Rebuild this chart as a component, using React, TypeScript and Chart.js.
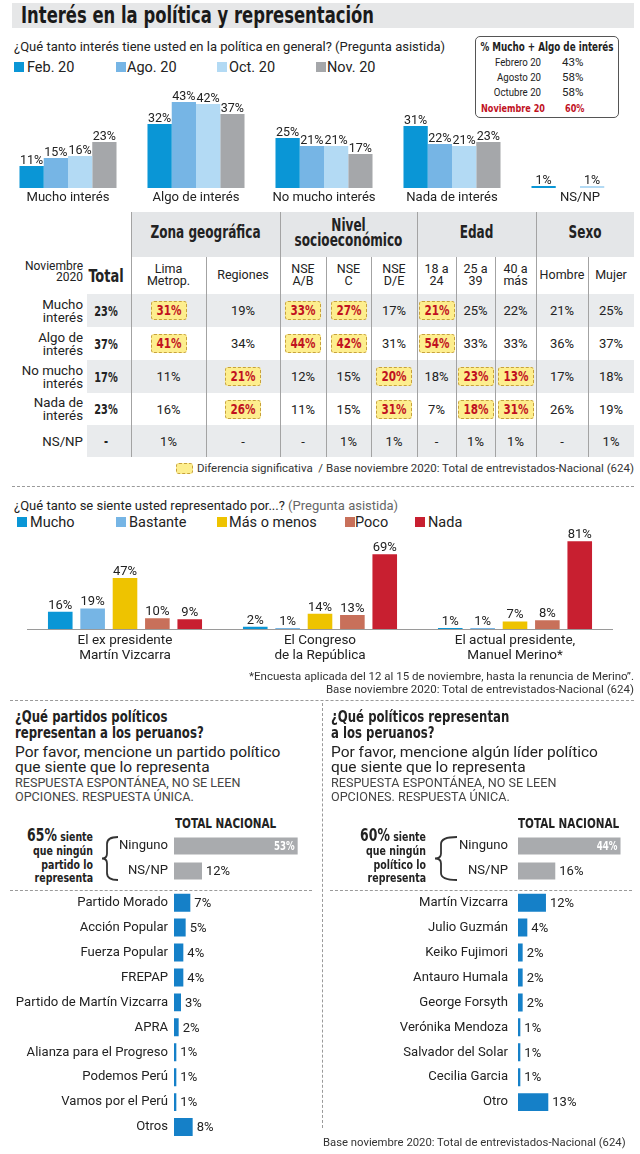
import React, { useEffect, useRef } from "react";
import { Chart, registerables } from "chart.js";

Chart.register(...registerables);

const REG = "Roboto, 'Liberation Sans', Arial, sans-serif";
const COND = "'DejaVu Sans Condensed', 'DejaVu Sans', sans-serif";
const CSX = 0.8; // horizontal squeeze for the condensed bold face
const INK = "#222";

// ---------- Data: interest in politics ----------
const interestCategories = ["Mucho interés", "Algo de interés", "No mucho interés", "Nada de interés", "NS/NP"];
const interestSeries = ["Feb. 20", "Ago. 20", "Oct. 20", "Nov. 20"];
const interestFeb = [11, 32, 25, 31, 1];
const interestAgo = [15, 43, 21, 22, null];
const interestOct = [16, 42, 21, 21, 1];
const interestNov = [23, 37, 17, 23, null];
const interestColors = ["#0a96d6", "#76b5e5", "#b3daf4", "#a5a7aa"];

const insetLabels = ["Febrero 20", "Agosto 20", "Octubre 20", "Noviembre 20"];
const insetValues = [43, 58, 58, 60];

// ---------- Data: cross table (Nov 2020) ----------
const tableGroups = ["Zona geográfica", "Nivel\nsocioeconómico", "Edad", "Sexo"];
const tableColumns = ["Lima\nMetrop.", "Regiones", "NSE\nA/B", "NSE\nC", "NSE\nD/E", "18 a\n24", "25 a\n39", "40 a\nmás", "Hombre", "Mujer"];
const tableRows = ["Mucho\ninterés", "Algo de\ninterés", "No mucho\ninterés", "Nada de\ninterés", "NS/NP"];
const tableTotals = ["23%", "37%", "17%", "23%", "-"];
const tableMucho = ["31%", "19%", "33%", "27%", "17%", "21%", "25%", "22%", "21%", "25%"];
const tableAlgo = ["41%", "34%", "44%", "42%", "31%", "54%", "33%", "33%", "36%", "37%"];
const tableNoMucho = ["11%", "21%", "12%", "15%", "20%", "18%", "23%", "13%", "17%", "18%"];
const tableNada = ["16%", "26%", "11%", "15%", "31%", "7%", "18%", "31%", "26%", "19%"];
const tableNsnp = ["1%", "-", "-", "1%", "1%", "-", "1%", "1%", "-", "1%"];
const sigMucho = [1, 0, 1, 1, 0, 1, 0, 0, 0, 0];
const sigAlgo = [1, 0, 1, 1, 0, 1, 0, 0, 0, 0];
const sigNoMucho = [0, 1, 0, 0, 1, 0, 1, 1, 0, 0];
const sigNada = [0, 1, 0, 0, 1, 0, 1, 1, 0, 0];
const sigNsnp = [0, 0, 0, 0, 0, 0, 0, 0, 0, 0];

// ---------- Data: representation ----------
const reprCategories = [["El ex presidente", "Martín Vizcarra"], ["El Congreso", "de la República"], ["El actual presidente,", "Manuel Merino*"]];
const reprSeries = ["Mucho", "Bastante", "Más o menos", "Poco", "Nada"];
const reprMucho = [16, 2, 1];
const reprBastante = [19, 1, 1];
const reprMasMenos = [47, 14, 7];
const reprPoco = [10, 13, 8];
const reprNada = [9, 69, 81];
const reprColors = ["#0a96d6", "#76b5e5", "#eec300", "#c8705a", "#c81f30"];

// ---------- Data: parties ----------
const partyNoneLabels = ["Ninguno", "NS/NP"];
const partyNoneValues = [53, 12];
const partyLabels = ["Partido Morado", "Acción Popular", "Fuerza Popular", "FREPAP", "Partido de Martín Vizcarra", "APRA", "Alianza para el Progreso", "Podemos Perú", "Vamos por el Perú", "Otros"];
const partyValues = [7, 5, 4, 4, 3, 2, 1, 1, 1, 8];

// ---------- Data: politicians ----------
const leaderNoneLabels = ["Ninguno", "NS/NP"];
const leaderNoneValues = [44, 16];
const leaderLabels = ["Martín Vizcarra", "Julio Guzmán", "Keiko Fujimori", "Antauro Humala", "George Forsyth", "Verónika Mendoza", "Salvador del Solar", "Cecilia Garcia", "Otro"];
const leaderValues = [12, 4, 2, 2, 2, 1, 1, 1, 13];

const GRAY_BAR = "#a9abae";
const BLUE_BAR = "#1580c8";
const RED = "#c1121f";

const valueLabelPlugin = {
  id: "valueLabels",
  afterDatasetsDraw(chart: any, _args: any, opts: any) {
    const ctx = chart.ctx;
    const horizontal = chart.options.indexAxis === "y";
    ctx.save();
    chart.data.datasets.forEach((ds: any, di: number) => {
      const meta = chart.getDatasetMeta(di);
      meta.data.forEach((el: any, i: number) => {
        const v = ds.data[i];
        if (v === null || v === undefined) return;
        const text = v + "%";
        if (horizontal) {
          const inside = opts.insideIndex === i;
          ctx.textBaseline = "middle";
          if (inside) {
            ctx.save();
            ctx.font = opts.insideFont;
            ctx.fillStyle = opts.insideColor;
            ctx.textAlign = "right";
            ctx.translate(el.x - 3, el.y + 1);
            ctx.scale(opts.insideScaleX, 1);
            ctx.fillText(text, 0, 0);
            ctx.restore();
          } else {
            ctx.font = opts.font;
            ctx.fillStyle = opts.color;
            ctx.textAlign = "left";
            ctx.fillText(text, el.x + opts.offset, el.y + 1);
          }
        } else {
          ctx.font = opts.font;
          ctx.fillStyle = opts.color;
          ctx.textAlign = "center";
          ctx.textBaseline = "alphabetic";
          ctx.fillText(text, el.x, el.y - opts.offset);
        }
      });
    });
    ctx.restore();
  },
};

function ChartCanvas({ left, top, width, height, make }: { left: number; top: number; width: number; height: number; make: () => any }) {
  const ref = useRef<HTMLCanvasElement>(null);
  useEffect(() => {
    const chart = new Chart(ref.current as HTMLCanvasElement, make());
    return () => chart.destroy();
  }, []);
  return (
    <canvas
      ref={ref}
      width={width}
      height={height}
      style={{ position: "absolute", left, top, width, height, display: "block" }}
    />
  );
}

const baseOpts = {
  responsive: false,
  animation: false,
  events: [],
};

function interestConfig() {
  const data = [interestFeb, interestAgo, interestOct, interestNov];
  return {
    type: "bar",
    data: {
      labels: interestCategories,
      datasets: interestSeries.map((s, i) => ({
        label: s,
        data: data[i],
        backgroundColor: interestColors[i],
        borderWidth: 0,
        categoryPercentage: 0.758,
        barPercentage: 1,
      })),
    },
    options: {
      ...baseOpts,
      layout: { padding: { top: 8, bottom: 2, left: 0, right: 0 } },
      plugins: {
        legend: { display: false },
        tooltip: { enabled: false },
        valueLabels: { font: `12.5px ${REG}`, color: INK, offset: 2 },
      },
      scales: {
        x: {
          grid: { display: false, drawTicks: false },
          border: { display: false },
          ticks: { font: { family: REG, size: 13.1 }, color: INK, padding: 2, maxRotation: 0, autoSkip: false },
          afterFit: (s: any) => { s.height = 20; },
        },
        y: { display: false, min: 0, max: 50 },
      },
    },
    plugins: [valueLabelPlugin],
  };
}

function reprConfig() {
  const data = [reprMucho, reprBastante, reprMasMenos, reprPoco, reprNada];
  return {
    type: "bar",
    data: {
      labels: reprCategories,
      datasets: reprSeries.map((s, i) => ({
        label: s,
        data: data[i],
        backgroundColor: reprColors[i],
        borderWidth: 0,
        categoryPercentage: 0.83,
        barPercentage: 0.76,
      })),
    },
    options: {
      ...baseOpts,
      layout: { padding: { top: 16.8, bottom: 5, left: 27.5, right: 27.5 } },
      plugins: {
        legend: { display: false },
        tooltip: { enabled: false },
        valueLabels: { font: `13px ${REG}`, color: INK, offset: 3 },
      },
      scales: {
        x: {
          grid: { display: false, drawTicks: false },
          border: { display: true, color: "#9a9a9a", width: 1 },
          ticks: { font: { family: REG, size: 13.5, lineHeight: 1.12 }, color: INK, padding: 4, maxRotation: 0, autoSkip: false },
          afterFit: (s: any) => { s.height = 36; },
        },
        y: { display: false, min: 0, max: 85 },
      },
    },
    plugins: [valueLabelPlugin],
  };
}

function hbarConfig(labels: string[], values: number[], color: string, axisWidth: number, tickPad: number, max: number, padding: any, barPct: number, insideIndex: number) {
  return {
    type: "bar",
    data: {
      labels,
      datasets: [{ data: values, backgroundColor: color, borderWidth: 0, categoryPercentage: 1, barPercentage: barPct }],
    },
    options: {
      ...baseOpts,
      indexAxis: "y",
      layout: { padding },
      plugins: {
        legend: { display: false },
        tooltip: { enabled: false },
        valueLabels: {
          font: `13px ${REG}`,
          color: INK,
          offset: 4,
          insideIndex,
          insideFont: `bold 12px ${COND}`,
          insideScaleX: CSX,
          insideColor: "#ffffff",
        },
      },
      scales: {
        x: { display: false, min: 0, max },
        y: {
          grid: { display: false, drawTicks: false },
          border: { display: false },
          ticks: { font: { family: REG, size: 13.1 }, color: INK, padding: tickPad, autoSkip: false },
          afterFit: (s: any) => {
            s.width = axisWidth;
            s.paddingTop = 0;
            s.paddingBottom = 0;
          },
        },
      },
    },
    plugins: [valueLabelPlugin],
  };
}

type TP = { x: number; y: number; children: any; size?: number; font?: string; weight?: any; color?: string; align?: "left" | "right" | "center"; lh?: number; w?: number; sx?: number; lines?: number; style?: any };
// y = vertical centre of the whole text block
function T({ x, y, children, size = 13, font = REG, weight = 400, color = INK, align = "left", lh, w = 400, sx, lines, style }: TP) {
  const lineH = lh ?? Math.round(size * 1.15);
  const n = lines ?? (typeof children === "string" ? children.split("\n").length : 1);
  const pos: any = { position: "absolute", top: y - (n * lineH) / 2, whiteSpace: "pre", fontFamily: font, fontSize: size, fontWeight: weight, color, lineHeight: lineH + "px" };
  if (align === "left") pos.left = x;
  else if (align === "right") { pos.left = x - w; pos.width = w; pos.textAlign = "right"; }
  else { pos.left = x - w / 2; pos.width = w; pos.textAlign = "center"; }
  if (sx) {
    pos.transform = `scaleX(${sx})`;
    pos.transformOrigin = align === "left" ? "left center" : align === "right" ? "right center" : "center center";
  }
  return <div style={{ ...pos, ...style }}>{children}</div>;
}

function B(props: TP) {
  return <T font={COND} weight={700} sx={CSX} {...props} />;
}

function Legend({ y, items, colors, squares, texts, size }: { y: number; items: string[]; colors: string[]; squares: number[]; texts: number[]; size: number }) {
  return (
    <>
      {items.map((it, i) => (
        <React.Fragment key={it}>
          <div style={{ position: "absolute", left: squares[i], top: y - 5, width: 10, height: 10, background: colors[i] }} />
          <T x={texts[i]} y={y} size={size}>{it}</T>
        </React.Fragment>
      ))}
    </>
  );
}

function Dash({ x, y, w, h }: { x: number; y: number; w?: number; h?: number }) {
  const horiz = w !== undefined;
  return (
    <div
      style={{
        position: "absolute",
        left: x,
        top: y,
        width: horiz ? w : 0,
        height: horiz ? 0 : h,
        borderTop: horiz ? "1px dashed #9a9a9a" : undefined,
        borderLeft: horiz ? undefined : "1px dashed #9a9a9a",
      }}
    />
  );
}

function Brace({ point, stem, hook, top, bottom }: { point: number; stem: number; hook: number; top: number; bottom: number }) {
  const mid = (top + bottom) / 2;
  const d = `M ${hook} ${top} Q ${stem} ${top} ${stem} ${top + 7} L ${stem} ${mid - 5} Q ${stem} ${mid} ${point} ${mid} Q ${stem} ${mid} ${stem} ${mid + 5} L ${stem} ${bottom - 7} Q ${stem} ${bottom} ${hook} ${bottom}`;
  return (
    <svg style={{ position: "absolute", left: 0, top: 0 }} width={640} height={1154}>
      <path d={d} stroke="#333" strokeWidth={1.8} fill="none" />
    </svg>
  );
}

const colEdges = [131, 206, 280, 326, 371, 417, 456, 495, 536, 588, 634];
const groupEdges = [131, 280, 417, 536, 634];
const rowEdges = [294, 327, 360, 393, 425, 457];

function CrossTable() {
  const rowsData = [tableMucho, tableAlgo, tableNoMucho, tableNada, tableNsnp];
  const rowsSig = [sigMucho, sigAlgo, sigNoMucho, sigNada, sigNsnp];
  const els: any[] = [];
  els.push(<div key="hb" style={{ position: "absolute", left: 131, top: 212, width: 503, height: 45, background: "#e4e6e8" }} />);
  for (let r = 0; r < 5; r += 2) {
    els.push(<div key={"band" + r} style={{ position: "absolute", left: 87, top: rowEdges[r], width: 547, height: rowEdges[r + 1] - rowEdges[r], background: "#e9ebed" }} />);
  }
  groupEdges.slice(0, 4).forEach((x, i) =>
    els.push(<div key={"gl" + i} style={{ position: "absolute", left: x, top: 212, width: 1, height: 245, background: "#a3a3a3" }} />)
  );
  colEdges.slice(0, 10).forEach((x, i) => {
    if (!groupEdges.includes(x)) els.push(<div key={"cl" + i} style={{ position: "absolute", left: x, top: 257, width: 1, height: 200, background: "#a3a3a3" }} />);
  });
  tableGroups.forEach((g, i) => {
    const x0 = groupEdges[i], x1 = groupEdges[i + 1];
    els.push(<B key={"g" + i} x={(x0 + x1) / 2} y={233} size={16.8} lh={15.5} align="center" w={x1 - x0 + 40}>{g}</B>);
  });
  tableColumns.forEach((c, i) => {
    const x0 = colEdges[i], x1 = colEdges[i + 1];
    els.push(<T key={"c" + i} x={(x0 + x1) / 2} y={275} size={12.5} lh={12.5} align="center" w={x1 - x0}>{c}</T>);
  });
  els.push(<T key="nov" x={83} y={272} size={12} align="right" w={80} lh={11.5}>{"Noviembre\n2020"}</T>);
  els.push(<B key="tot" x={106} y={275} size={18} align="center" w={60}>Total</B>);
  tableRows.forEach((lab, r) => {
    const cy = (rowEdges[r] + rowEdges[r + 1]) / 2;
    els.push(<T key={"rl" + r} x={83} y={cy} size={13.3} align="right" w={80} lh={13}>{lab}</T>);
    els.push(<B key={"rt" + r} x={106} y={cy} size={13.6} align="center" w={44}>{tableTotals[r]}</B>);
    rowsData[r].forEach((v, c) => {
      const cx = (colEdges[c] + colEdges[c + 1]) / 2;
      if (rowsSig[r][c]) {
        els.push(
          <div key={`h${r}-${c}`} style={{ position: "absolute", left: cx - 18, top: cy - 9.5, width: 34, height: 17, background: "#fdee8e", border: "1px dashed #c7a13c", borderRadius: 3 }} />
        );
        els.push(<B key={`hv${r}-${c}`} x={cx} y={cy} size={14.5} color={RED} align="center" w={50}>{v}</B>);
      } else {
        els.push(<T key={`v${r}-${c}`} x={cx} y={cy} size={13} align="center" w={50}>{v}</T>);
      }
    });
  });
  return <>{els}</>;
}

export default function App() {
  return (
    <div style={{ position: "absolute", left: 0, top: 0, width: 640, height: 1154, overflow: "hidden", background: "#fff" }}>
      {/* Title */}
      <div style={{ position: "absolute", left: 12, top: 3, width: 622, height: 25, background: "#e6e7e8" }} />
      <B x={21} y={15.5} size={22.8} color="#1a1a1a" lh={25}>Interés en la política y representación</B>

      <T x={14} y={46} size={13}>¿Qué tanto interés tiene usted en la política en general? (Pregunta asistida)</T>
      <Legend y={67} items={interestSeries} colors={interestColors} squares={[14, 116, 217, 316]} texts={[27, 127, 229, 327]} size={14.5} />

      {/* Inset */}
      <div style={{ position: "absolute", left: 475, top: 36, width: 142, height: 80, border: "1px solid #555", borderRadius: 5 }} />
      <B x={547} y={46.5} size={12.2} align="center" w={170}>% Mucho + Algo de interés</B>
      {insetLabels.map((l, i) => {
        const last = i === insetLabels.length - 1;
        const y = [62, 77, 92, 108][i];
        return (
          <React.Fragment key={l}>
            {last ? (
              <>
                <B x={545} y={y} size={11.3} color={RED} align="right" w={100}>{l}</B>
                <B x={565} y={y} size={11.3} color={RED}>{insetValues[i] + "%"}</B>
              </>
            ) : (
              <>
                <T x={541} y={y} size={11.5} sx={0.84} align="right" w={80}>{l}</T>
                <T x={562} y={y} size={11.5}>{insetValues[i] + "%"}</T>
              </>
            )}
          </React.Fragment>
        );
      })}

      <ChartCanvas left={4} top={80} width={640} height={130} make={interestConfig} />

      <CrossTable />

      {/* footnote table */}
      <div style={{ position: "absolute", left: 176, top: 463, width: 15, height: 9, background: "#fdee8e", border: "1px dashed #c7a13c", borderRadius: 3 }} />
      <T x={634} y={468} size={11.5} align="right" w={440} color="#333">Diferencia significativa  / Base noviembre 2020: Total de entrevistados-Nacional (624)</T>
      <Dash x={12} y={486} w={622} />

      <T x={14} y={505} size={13}>¿Qué tanto se siente usted representado por...? <span style={{ color: "#666" }}>(Pregunta asistida)</span></T>
      <Legend y={522} items={reprSeries} colors={reprColors} squares={[17, 116, 217, 345, 415]} texts={[30, 129, 229, 355, 428]} size={14.5} />

      <ChartCanvas left={0} top={520} width={640} height={150} make={reprConfig} />

      <T x={634} y={676} size={11.5} align="right" w={420} color="#333">*Encuesta aplicada del 12 al 15 de noviembre, hasta la renuncia de Merino”.</T>
      <T x={634} y={689} size={11.5} align="right" w={420} color="#333">Base noviembre 2020: Total de entrevistados-Nacional (624)</T>
      <Dash x={10} y={700} w={624} />

      {/* Left panel */}
      <B x={15} y={725} size={16.3} lh={16}>{"¿Qué partidos políticos\nrepresentan a los peruanos?"}</B>
      <T x={15} y={759.5} size={15.5} lh={15}>{"Por favor, mencione un partido político\nque siente que lo representa"}</T>
      <T x={15} y={790} size={12.6} lh={14} color="#444">{"RESPUESTA ESPONTÁNEA, NO SE LEEN\nOPCIONES. RESPUESTA ÚNICA."}</T>
      <B x={175} y={823} size={14.5}>TOTAL NACIONAL</B>
      <B x={93} y={856.5} size={13.1} lh={13.7} align="right" w={120} lines={4}>
        <span style={{ fontSize: 17.3 }}>65%</span>{" siente\nque ningún\npartido lo\nrepresenta"}
      </B>
      <Brace point={102} stem={107} hook={118} top={837} bottom={880} />
      <ChartCanvas left={0} top={830} width={320} height={56} make={() => hbarConfig(partyNoneLabels, partyNoneValues, GRAY_BAR, 174, 6, 60, { top: 3.5, bottom: 2.5, left: 0, right: 6 }, 0.68, 0)} />
      <Dash x={10} y={890} w={302} />
      <ChartCanvas left={0} top={888} width={320} height={254} make={() => hbarConfig(partyLabels, partyValues, BLUE_BAR, 174, 6, 60, { top: 2.2, bottom: 2.5, left: 0, right: 6 }, 0.72, -1)} />

      {/* Right panel */}
      <Dash x={322} y={703} h={425} />
      <B x={331} y={725} size={16.3} lh={16}>{"¿Qué políticos representan\na los peruanos?"}</B>
      <T x={331} y={759.5} size={15.5} lh={15}>{"Por favor, mencione algún líder político\nque siente que lo representa"}</T>
      <T x={331} y={790} size={12.6} lh={14} color="#444">{"RESPUESTA ESPONTÁNEA, NO SE LEEN\nOPCIONES. RESPUESTA ÚNICA."}</T>
      <B x={518} y={823} size={14.5}>TOTAL NACIONAL</B>
      <B x={426} y={856.5} size={13.1} lh={13.7} align="right" w={120} lines={4}>
        <span style={{ fontSize: 17.3 }}>60%</span>{" siente\nque ningún\npolítico lo\nrepresenta"}
      </B>
      <Brace point={435} stem={441} hook={457} top={837} bottom={880} />
      <ChartCanvas left={320} top={830} width={320} height={56} make={() => hbarConfig(leaderNoneLabels, leaderNoneValues, GRAY_BAR, 198, 10, 50, { top: 3.5, bottom: 2.5, left: 0, right: 5.5 }, 0.68, 0)} />
      <Dash x={330} y={890} w={302} />
      <ChartCanvas left={320} top={888} width={320} height={229} make={() => hbarConfig(leaderLabels, leaderValues, BLUE_BAR, 198, 10, 50, { top: 2.2, bottom: 2.4, left: 0, right: 5.5 }, 0.72, -1)} />

      <T x={323} y={1142} size={11.3} color="#333">Base noviembre 2020: Total de entrevistados-Nacional (624)</T>
    </div>
  );
}
